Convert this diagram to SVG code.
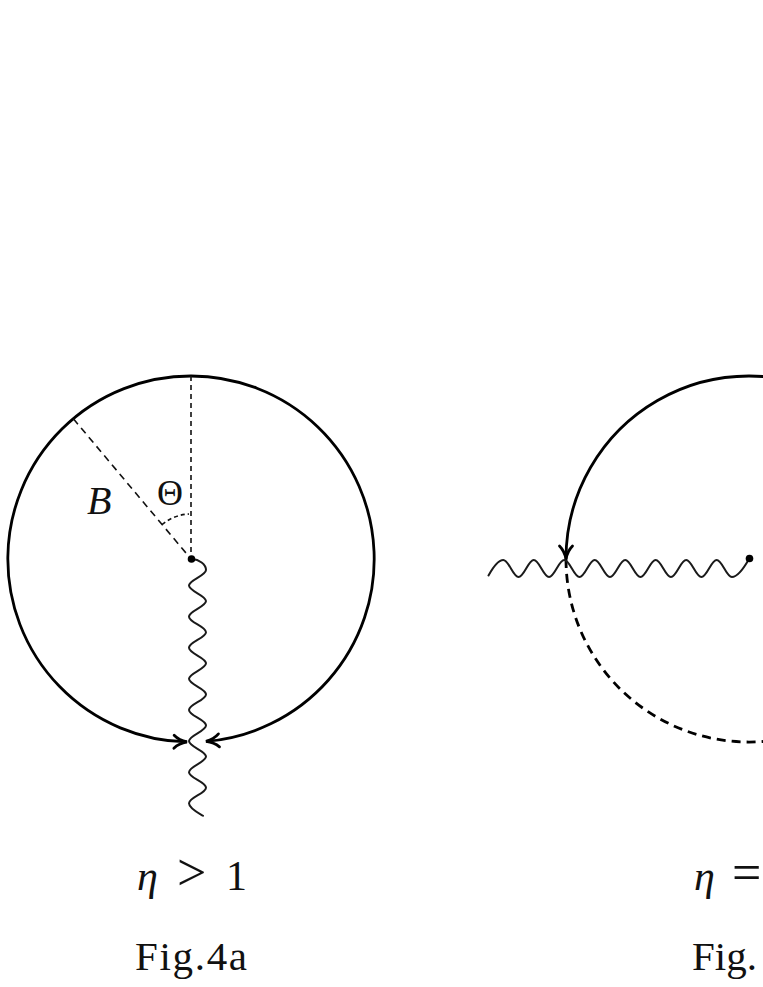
<svg xmlns="http://www.w3.org/2000/svg" width="763" height="987" viewBox="0 0 763 987">
<style>
.circ{fill:none;stroke:#000;stroke-width:2.8}
.dash{fill:none;stroke:#111;stroke-width:1.6}
.wave{fill:none;stroke:#1a1a1a;stroke-width:2;stroke-linejoin:round;stroke-linecap:round}
.dot{fill:#000}
.lbl{font-family:"Liberation Serif","Times New Roman",serif;fill:#111}
</style>
<defs>
<marker id="to" markerUnits="userSpaceOnUse" viewBox="-15 -9 18 18" refX="0" refY="0" markerWidth="18" markerHeight="18" orient="auto" overflow="visible">
<path d="M -13 -6.5 C -9 -2.5 -4 -0.8 0 0 C -4 0.8 -9 2.5 -13 6.5" fill="none" stroke="#000" stroke-width="2.8" stroke-linecap="round"/>
</marker>
</defs>
<rect width="763" height="987" fill="#fff"/>
<g id="fig4a">
<g id="connectors-a">
<path class="circ" d="M 191 376 A 183 183 0 0 0 187 741.96" marker-end="url(#to)"/>
<path class="circ" d="M 191 376 A 183 183 0 0 1 206 741.4" marker-end="url(#to)"/>
<line class="dash" x1="191" y1="376" x2="191" y2="559" stroke-dasharray="5 4"/>
<line class="dash" x1="73.4" y1="418.8" x2="191" y2="559" stroke-dasharray="7 5"/>
<path class="dash" d="M 162.1 524.5 A 45 45 0 0 1 189 514" stroke-dasharray="4 3"/>
<path class="wave" d="M 192 559 C 199 559.5 206 564 206 570 c 0 5.66 -17 9.89 -17 15.55 s 17 9.89 17 15.55 s -17 9.89 -17 15.55 s 17 9.89 17 15.55 s -17 9.89 -17 15.55 s 17 9.89 17 15.55 s -17 9.89 -17 15.55 s 17 9.89 17 15.55 s -17 9.89 -17 15.55 s 17 9.89 17 15.55 s -17 9.89 -17 15.55 s 17 9.89 17 15.55 s -17 9.89 -17 15.55 s 17 9.89 17 15.55 s -17 9.89 -17 15.55 c 0 5 9 9.5 14 12.5"/>
</g>
<g id="center-a"><circle class="dot" cx="191.5" cy="559" r="3.8"/></g>
<g id="label-B"><text class="lbl" x="87" y="514" font-size="40" font-style="italic">B</text></g>
<g id="label-Theta"><text class="lbl" x="157" y="505" font-size="36">Θ</text></g>
<g id="caption-a">
<text class="lbl" y="890" font-size="42"><tspan x="137" font-style="italic">η</tspan><tspan x="177" font-size="52">&gt;</tspan><tspan x="226">1</tspan></text>
<text class="lbl" x="135" y="970" font-size="41" textLength="112" lengthAdjust="spacing">Fig.4a</text>
</g>
</g>
<g id="fig4b">
<g id="connectors-b">
<path class="circ" d="M 840.5 400.5 A 183 183 0 0 0 566 559" marker-end="url(#to)"/>
<path class="circ" d="M 566 559 A 183 183 0 0 0 907.5 650.5" stroke-dasharray="9 6" stroke-width="2.2"/>
<path class="wave" d="M 488.5 575.5 C 491 571 497.8 560 503.3 560 c 5.54 0 9.7 17 15.24 17 s 9.7 -17 15.24 -17 s 9.7 17 15.24 17 s 9.7 -17 15.24 -17 s 9.7 17 15.24 17 s 9.7 -17 15.24 -17 s 9.7 17 15.24 17 s 9.7 -17 15.24 -17 s 9.7 17 15.24 17 s 9.7 -17 15.24 -17 s 9.7 17 15.24 17 s 9.7 -17 15.24 -17 s 9.7 17 15.24 17 s 9.7 -17 15.24 -17 s 9.7 17 15.24 17 c 5.54 0 12 -9 17.1 -18"/>
</g>
<g id="center-b"><circle class="dot" cx="749.5" cy="558.5" r="3.8"/></g>
<g id="caption-b">
<text class="lbl" y="890" font-size="42"><tspan x="694" font-style="italic">η</tspan><tspan x="732" font-size="52">=</tspan></text>
<text class="lbl" x="692" y="970" font-size="41">Fig.</text>
</g>
</g>
</svg>
